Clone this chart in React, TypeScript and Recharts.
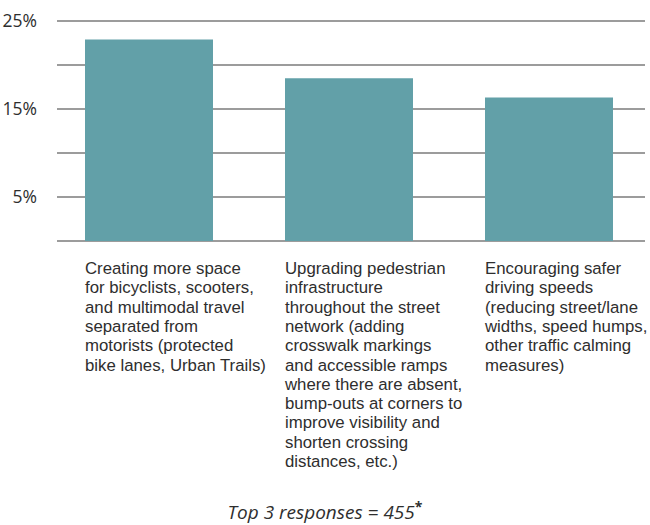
import { BarChart, Bar, XAxis, YAxis, CartesianGrid } from 'recharts';

const categories = ['Protected space', 'Pedestrian infrastructure', 'Safer speeds'];

const shares = [22.9, 18.5, 16.3];

const categoryLines = [
  [
    'Creating more space',
    'for bicyclists, scooters,',
    'and multimodal travel',
    'separated from',
    'motorists (protected',
    'bike lanes, Urban Trails)',
  ],
  [
    'Upgrading pedestrian',
    'infrastructure',
    'throughout the street',
    'network (adding',
    'crosswalk markings',
    'and accessible ramps',
    'where there are absent,',
    'bump-outs at corners to',
    'improve visibility and',
    'shorten crossing',
    'distances, etc.)',
  ],
  [
    'Encouraging safer',
    'driving speeds',
    '(reducing street/lane',
    'widths, speed humps,',
    'other traffic calming',
    'measures)',
  ],
];

const yTicks = [0, 5, 10, 15, 20, 25];
const labelledTicks = [5, 15, 25];

const chartData = categories.map((name, i) => ({
  name,
  share: shares[i],
}));

const FONT = '"Open Sans", Lato, sans-serif';
const LABEL_FONT = '"Liberation Sans", Arial, sans-serif';
const BAR_SIZE = 128;

function CategoryTick(props: any) {
  const { x, y, index } = props;
  const lines = categoryLines[index] || [];
  return (
    <text
      x={x - BAR_SIZE / 2}
      y={y + 25}
      fill="#2e2e2e"
      fontSize={16.8}
      fontFamily={LABEL_FONT}
      textAnchor="start"
    >
      {lines.map((line, i) => (
        <tspan key={i} x={x - BAR_SIZE / 2} dy={i === 0 ? 0 : 19.3}>
          {line}
        </tspan>
      ))}
    </text>
  );
}

function App() {
  return (
    <div
      style={{
        position: 'absolute',
        left: 0,
        top: 0,
        width: 650,
        height: 525,
        background: '#fff',
        fontFamily: FONT,
      }}
    >
      <BarChart
        width={650}
        height={525}
        data={chartData}
        margin={{ top: 21, right: 5, left: 0, bottom: 0 }}
        barCategoryGap={36}
      >
        <CartesianGrid vertical={false} stroke="#3a3a3a" strokeWidth={1.2} />
        <XAxis
          dataKey="name"
          axisLine={false}
          tickLine={false}
          height={284}
          interval={0}
          padding={{ left: -8, right: -4 }}
          tick={<CategoryTick />}
        />
        <YAxis
          width={57}
          domain={[0, 25]}
          ticks={yTicks}
          axisLine={false}
          tickLine={false}
          tickMargin={14}
          tick={{ fill: '#2e2e2e', fontSize: 17.5, fontFamily: FONT }}
          tickFormatter={(v: number) => (labelledTicks.includes(v) ? `${v}%` : '')}
        />
        <Bar
          dataKey="share"
          fill="#62a0a8"
          barSize={BAR_SIZE}
          isAnimationActive={false}
        />
      </BarChart>
      <div
        style={{
          position: 'absolute',
          top: 502,
          left: 0,
          width: 650,
          textAlign: 'center',
          fontStyle: 'italic',
          fontSize: 19,
          lineHeight: '21px',
          color: '#2e2e2e',
        }}
      >
        Top 3 responses = 455
        <sup style={{ fontSize: 14, fontWeight: 700, fontStyle: 'normal', lineHeight: 0 }}>*</sup>
      </div>
    </div>
  );
}

export default App;
